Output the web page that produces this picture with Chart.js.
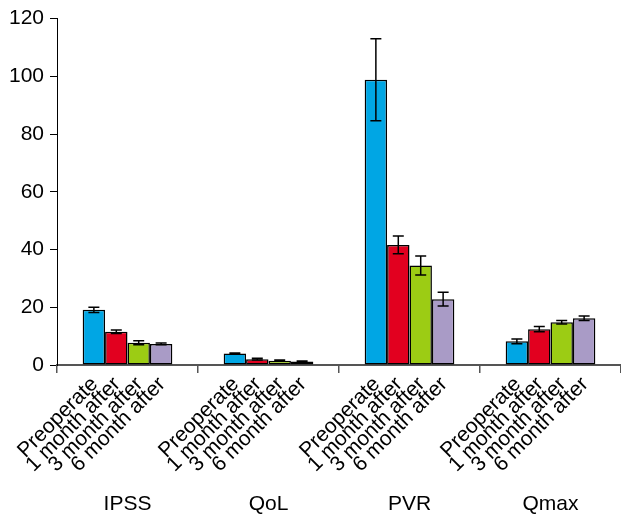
<!DOCTYPE html>
<html>
<head>
<meta charset="utf-8">
<script src="https://cdn.jsdelivr.net/npm/chart.js@4.4.1/dist/chart.umd.min.js"></script>
<style>
  html, body { margin: 0; padding: 0; background: #fff; overflow: hidden; }
  #wrap { width: 621px; height: 515px; }
</style>
</head>
<body>
<div id="wrap"><canvas id="chart"></canvas></div>
<script>
// data
const groups = ['IPSS', 'QoL', 'PVR', 'Qmax'];
const timepoints = ['Preoperate', '1 month after', '3 month after', '6 month after'];
const preoperate = [19.1, 4.0, 98.8, 8.2];
const month1 = [11.5, 2.0, 41.6, 12.4];
const month3 = [7.7, 1.5, 34.5, 14.8];
const month6 = [7.3, 1.2, 22.8, 16.2];
const preoperateErr = [0.9, 0.2, 14.2, 0.8];
const month1Err = [0.6, 0.3, 3.1, 0.9];
const month3Err = [0.7, 0.2, 3.3, 0.6];
const month6Err = [0.3, 0.2, 2.4, 0.8];
const yTicks = [0, 20, 40, 60, 80, 100, 120];

const colors = ['#00a6e4', '#e2001f', '#9ccc14', '#a99bc6'];
const FONT = '"Liberation Sans", Arial, sans-serif';

const series = [preoperate, month1, month3, month6];
const errs = [preoperateErr, month1Err, month3Err, month6Err];

// error bars on top of each bar
const errorBars = {
  id: 'errorBars',
  afterDatasetsDraw(chart) {
    const ctx = chart.ctx, y = chart.scales.y;
    ctx.save();
    ctx.strokeStyle = '#000';
    ctx.lineWidth = 1.5;
    chart.data.datasets.forEach((ds, i) => {
      chart.getDatasetMeta(i).data.forEach((bar, j) => {
        const v = ds.data[j], e = errs[i][j];
        const top = y.getPixelForValue(v + e), bot = y.getPixelForValue(v - e);
        ctx.beginPath();
        ctx.moveTo(bar.x, top); ctx.lineTo(bar.x, bot);
        ctx.moveTo(bar.x - 5.5, top); ctx.lineTo(bar.x + 5.5, top);
        ctx.moveTo(bar.x - 5.5, bot); ctx.lineTo(bar.x + 5.5, bot);
        ctx.stroke();
      });
    });
    ctx.restore();
  }
};

// slanted label under every bar + group name below
const barLabels = {
  id: 'barLabels',
  afterDraw(chart) {
    const ctx = chart.ctx, x = chart.scales.x;
    const base = chart.chartArea.bottom;
    ctx.save();
    ctx.fillStyle = '#000';
    ctx.font = '21px ' + FONT;
    chart.data.datasets.forEach((ds, i) => {
      chart.getDatasetMeta(i).data.forEach(bar => {
        ctx.save();
        ctx.translate(bar.x + 5, base + 20);
        ctx.rotate(-Math.PI / 4);
        ctx.textAlign = 'right';
        ctx.textBaseline = 'alphabetic';
        ctx.fillText(timepoints[i], 0, 0);
        ctx.restore();
      });
    });
    ctx.textAlign = 'center';
    ctx.textBaseline = 'alphabetic';
    groups.forEach((g, k) => {
      ctx.fillText(g, x.getPixelForValue(k), 510);
    });
    ctx.restore();
  }
};

new Chart(document.getElementById('chart'), {
  type: 'bar',
  data: {
    labels: groups,
    datasets: series.map((d, i) => ({
      label: timepoints[i],
      data: d,
      backgroundColor: colors[i],
      borderColor: '#000',
      borderWidth: 1.5,
      borderSkipped: false,
      barPercentage: 1.0,
      categoryPercentage: 0.636
    }))
  },
  options: {
    responsive: true,
    maintainAspectRatio: false,
    animation: false,
    layout: { padding: { top: 16, right: 0, bottom: 142, left: 0 } },
    plugins: { legend: { display: false }, tooltip: { enabled: false } },
    scales: {
      x: {
        ticks: { display: false },
        grid: { drawOnChartArea: false, drawTicks: true, tickLength: 8, color: '#555', lineWidth: 1.5, offset: true },
        border: { display: true, color: '#555', width: 2 }
      },
      y: {
        min: 0,
        max: 120,
        afterBuildTicks: s => { s.ticks = yTicks.map(v => ({ value: v })); },
        afterFit: s => { s.width = 57; },
        ticks: { color: '#000', font: { size: 21, family: FONT }, padding: 6 },
        grid: { drawOnChartArea: false, drawTicks: true, tickLength: 7, color: '#000', lineWidth: 1 },
        border: { display: true, color: '#000', width: 1 }
      }
    }
  },
  plugins: [errorBars, barLabels]
});
</script>
</body>
</html>
